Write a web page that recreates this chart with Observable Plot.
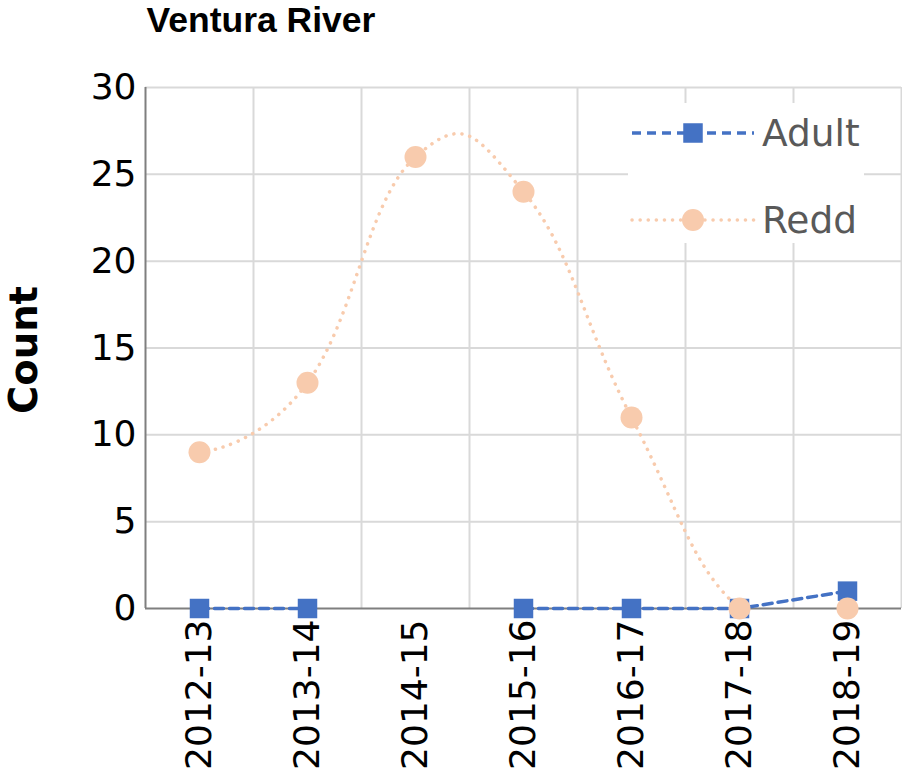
<!DOCTYPE html>
<html>
<head>
<meta charset="utf-8">
<script src="https://cdn.jsdelivr.net/npm/d3@7"></script>
<script src="https://cdn.jsdelivr.net/npm/@observablehq/plot@0.6"></script>
<style>
  html, body { margin: 0; padding: 0; background: #fff; }
  #chart { width: 902px; height: 777px; }
</style>
</head>
<body>
<div id="chart"></div>
<script>
const title = "Ventura River";
const yLabel = "Count";
const seasons = ["2012-13", "2013-14", "2014-15", "2015-16", "2016-17", "2017-18", "2018-19"];
const adult = [0, 0, null, 0, 0, 0, 1];
const redd = [9, 13, 26, 24, 11, 0, 0];
const yTicks = [0, 5, 10, 15, 20, 25, 30];
const seriesNames = ["Adult", "Redd"];
const colors = {Adult: "#4472C4", Redd: "#F8CBAD"};

const idx = seasons.map((_, i) => i);
const adultData = idx.map(i => ({i, v: adult[i]}));
const reddData = idx.map(i => ({i, v: redd[i]}));
const boundaries = idx.map(i => i + 0.5);
const side = 19.5;

const plot = Plot.plot({
  width: 902,
  height: 777,
  marginLeft: 145,
  marginRight: 1,
  marginTop: 87,
  marginBottom: 169,
  style: {fontFamily: "'DejaVu Sans', sans-serif", fontSize: "36px", color: "#000", background: "#fff"},
  x: {type: "linear", domain: [-0.5, seasons.length - 0.5]},
  y: {domain: [0, 30]},
  marks: [
    Plot.ruleY(yTicks.filter(d => d > 0), {stroke: "#d9d9d9", strokeWidth: 2}),
    Plot.ruleX(boundaries, {stroke: "#d9d9d9", strokeWidth: 2}),
    Plot.ruleX([-0.5], {stroke: "#7f7f7f", strokeWidth: 2}),
    Plot.ruleY([0], {stroke: "#7f7f7f", strokeWidth: 2}),
    Plot.axisY({ticks: yTicks, tickSize: 0, tickPadding: 9, label: null, fontSize: 36}),
    Plot.axisX({ticks: idx, tickFormat: i => seasons[i], tickSize: 0, tickPadding: 11, tickRotate: -90, label: null, fontSize: 36}),
    Plot.line(adultData, {x: "i", y: "v", stroke: colors.Adult, strokeWidth: 3.5, strokeDasharray: "9,6"}),
    Plot.dot(adultData.filter(d => d.v != null), {x: "i", y: "v", symbol: "square", r: side / Math.sqrt(Math.PI), fill: colors.Adult, stroke: null}),
    Plot.line(reddData, {x: "i", y: "v", stroke: colors.Redd, strokeWidth: 3.5, strokeDasharray: "0.1,8", strokeLinecap: "round", curve: d3.curveCardinal.tension(-0.35), clip: true}),
    Plot.dot(reddData, {x: "i", y: "v", r: 11, fill: colors.Redd, stroke: null}),
    Plot.text([title], {frameAnchor: "top-left", dx: 1, dy: -67, text: d => d, textAnchor: "start", lineAnchor: "middle", fontFamily: "'Liberation Sans', Arial, sans-serif", fontWeight: "bold", fontSize: 35.5, fill: "#000"}),
    Plot.text([yLabel], {frameAnchor: "left", dx: -121, dy: 2, text: d => d, rotate: -90, textAnchor: "middle", lineAnchor: "middle", fontWeight: "bold", fontSize: 38.5, fill: "#000"})
  ]
});

document.getElementById("chart").appendChild(plot);

// Legend drawn on top of the plot area
const svg = d3.select(plot);
const lg = svg.append("g").attr("font-family", "'DejaVu Sans', sans-serif").attr("font-size", 37.5).attr("text-anchor", "start");
lg.append("rect").attr("x", 628).attr("y", 103).attr("width", 236).attr("height", 140).attr("fill", "#fff");
const rows = [
  {name: seriesNames[0], y: 133, dash: "9,6", cap: "butt"},
  {name: seriesNames[1], y: 220, dash: "0.1,8", cap: "round"}
];
rows.forEach(r => {
  lg.append("line").attr("x1", 632).attr("x2", 754).attr("y1", r.y).attr("y2", r.y)
    .attr("stroke", colors[r.name]).attr("stroke-width", 3.5).attr("stroke-dasharray", r.dash).attr("stroke-linecap", r.cap);
  if (r.name === "Adult") {
    lg.append("rect").attr("x", 693 - side / 2).attr("y", r.y - side / 2).attr("width", side).attr("height", side).attr("fill", colors[r.name]);
  } else {
    lg.append("circle").attr("cx", 693).attr("cy", r.y).attr("r", 11).attr("fill", colors[r.name]);
  }
  lg.append("text").attr("x", 762).attr("y", r.y).attr("dy", "0.35em").attr("text-anchor", "start").attr("fill", "#595959").text(r.name);
});
</script>
</body>
</html>
